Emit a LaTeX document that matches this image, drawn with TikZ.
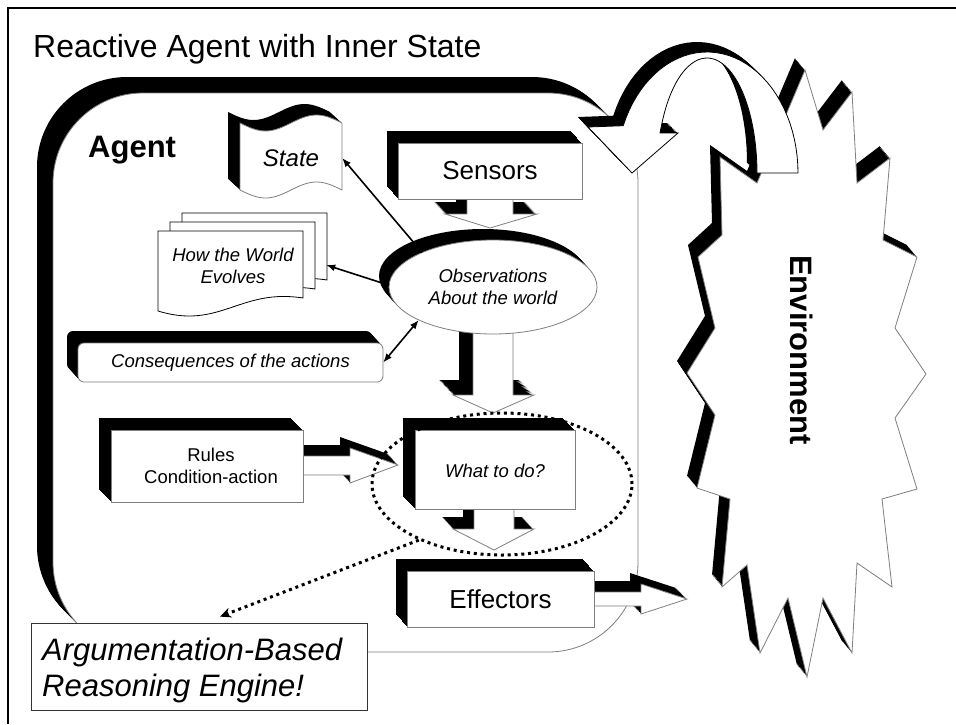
\documentclass[tikz,border=0pt]{standalone}
\usepackage{fontspec}
\setmainfont{Liberation Sans}
\usetikzlibrary{shapes.geometric,arrows.meta}
\definecolor{edgegray}{HTML}{7F7F7F}
% extruded (3-D) shape: black sweep toward upper-left, white front face
\newcommand\solid[4][edgegray]{%
  \foreach \k in {1,...,12}{\fill[black,shift={({#2*\k/12},{#3*\k/12})}] #4;}%
  \filldraw[fill=white,draw=#1,line width=0.8pt] #4;}
\newcommand\docsheet[1]{\filldraw[fill=white,draw=black,line width=0.8pt,shift={#1}] (0,0) -- (145,0) -- (145,67) .. controls (82,57) and (62,99) .. (0,80) -- cycle;}
\tikzset{
  txt/.style={inner sep=0pt, align=center},
  conn/.style={line width=1.6pt, black},
  dotline/.style={line width=3pt, dash pattern=on 3pt off 3.8pt},
}
\begin{document}
\begin{tikzpicture}[x=1pt,y=-1pt,line join=miter]
\useasboundingbox (0,0) rectangle (956,724);
\fill[white] (0,0) rectangle (956,724);
% frame (left and top edges only) and title
\draw[line width=2pt] (8,724) -- (8,8) -- (956,8);
\node[anchor=base west,inner sep=0,font=\fontsize{32pt}{38pt}\selectfont] (title) at (33,57) {Reactive Agent with Inner State};

% agent body
\solid{-16}{-16}{[rounded corners=90pt] (53,93) rectangle (638,652)}
\node[anchor=base west,inner sep=0,font=\fontsize{31pt}{36pt}\selectfont\bfseries] (agent) at (88,157) {Agent};

% environment burst
\solid{-10}{-12}{(805,70) -- (823,130) -- (852,92) -- (857,183) -- (890,158) -- (883,240) -- (917,257) -- (895,328) -- (926,374) -- (895,418) -- (917,489) -- (882,499) -- (892,587) -- (857,563) -- (852,653) -- (823,598) -- (807,677) -- (788,598) -- (760,653) -- (747,565) -- (722,587) -- (730,499) -- (697,488) -- (715,415) -- (687,373) -- (715,328) -- (698,257) -- (722,235) -- (720,157) -- (757,183) -- cycle}
\node[rotate=-90,inner sep=0,font=\fontsize{31pt}{36pt}\selectfont\bfseries] (env) at (802,350) {Environment};

% curved arrow
\solid[black]{-10}{-10}{(798,173) -- plot[domain=0:157,samples=40] ({707+91*cos(\x)},{173-121*sin(\x)}) -- (588,127) -- (632,173) -- (678,133) -- (660,133) -- plot[domain=157:0,samples=40] ({707+50*cos(\x)},{173-115*sin(\x)}) -- cycle}

% state
\solid{-12}{-11}{(240,123) -- plot[domain=0:360,samples=30] ({240+0.28333*\x},{123+8*sin(\x)}) -- (342,190) -- plot[domain=360:0,samples=30] ({240+0.28333*\x},{190+8*sin(\x)}) -- cycle}
\node[txt,font=\fontsize{24pt}{28pt}\selectfont\itshape,minimum width=102pt,minimum height=66pt] (state) at (291,158) {State};

% sensors
\solid{-11}{-12}{(467,190) -- (513,190) -- (513,214) -- (537,214) -- (490,228) -- (445,214) -- (467,214) -- cycle}
\solid{-11}{-12}{(398,143) rectangle (582,199)}
\node[txt,font=\fontsize{26pt}{31pt}\selectfont,minimum width=184pt,minimum height=56pt] (sensors) at (490,171) {Sensors};

% arrow observations -> what to do
\solid{-14}{-15}{(473,330) -- (513,330) -- (513,395) -- (534,395) -- (493,413) -- (453,395) -- (473,395) -- cycle}

% observations
\solid{-10}{-11}{(493,287) ellipse [x radius=104, y radius=47]}
\node[ellipse,txt,font=\fontsize{18.5pt}{22pt}\selectfont\itshape,minimum width=208pt,minimum height=94pt] (obs) at (493,287) {Observations\\About the world};

% how the world evolves
\docsheet{(182,213)}
\docsheet{(170,222)}
\docsheet{(158,231)}
\node[inner sep=0,minimum width=168pt,minimum height=104pt] (docs) at (242,265) {};
\node[txt,font=\fontsize{18.5pt}{22pt}\selectfont\itshape] (docstext) at (233,266) {How the World\\Evolves};

% consequences
\solid{-11}{-12}{[rounded corners=6pt] (78,343) rectangle (383,382)}
\node[txt,font=\fontsize{18.5pt}{22pt}\selectfont\itshape,minimum width=305pt,minimum height=39pt] (cons) at (230.5,362.5) {Consequences of the actions};

% rules
\solid{-10}{-11}{(295,456) -- (350,456) -- (350,448) -- (398,465) -- (350,483) -- (350,475) -- (295,475) -- cycle}
\solid{-12}{-12}{(111,430) rectangle (303,502)}
\node[txt,font=\fontsize{18.5pt}{22pt}\selectfont] (rules) at (211,466) {Rules\\Condition-action};

% what to do
\solid{-11}{-12}{(474,500) -- (514,500) -- (514,529) -- (534,529) -- (494,550) -- (453,529) -- (474,529) -- cycle}
\solid{-12}{-12}{(415,430) rectangle (575,509)}
\node[txt,font=\fontsize{18.5pt}{22pt}\selectfont\itshape] (what) at (495,471) {What to do?};

% effectors
\solid{-11}{-11}{(585,592) -- (641,592) -- (641,584) -- (687,599) -- (641,614) -- (641,606) -- (585,606) -- cycle}
\solid{-11}{-12}{(407,571) rectangle (594,627)}
\node[txt,font=\fontsize{26pt}{31pt}\selectfont,minimum width=187pt,minimum height=56pt] (eff) at (500.5,599) {Effectors};

% argumentation engine
\node[draw=black!80,fill=white,line width=0.8pt,minimum width=336pt,minimum height=87pt,inner sep=0] (arg) at (199,666.5) {};
\node[anchor=west,align=left,inner sep=0,font=\fontsize{31pt}{36pt}\selectfont\itshape] (argtext) at (42,670) {Argumentation-Based\\Reasoning Engine!};

% dotted focus
\node[ellipse,draw,dotline,minimum width=260pt,minimum height=142pt] (focus) at (502,484) {};
\draw[dotline,-{Stealth[length=11pt,width=10pt]}] (focus.214) -- ([xshift=21pt,yshift=6pt]arg.north);

% thin connectors
\draw[conn,-{Latex[length=9pt,width=7pt]}] (obs.154) -- (state.east);
\draw[conn,-{Latex[length=9pt,width=7pt]}] (obs.179) -- (docs.east);
\draw[conn,{Latex[length=9pt,width=7pt]}-{Latex[length=9pt,width=7pt]}] (obs.204) -- (cons.east);
\end{tikzpicture}
\end{document}
